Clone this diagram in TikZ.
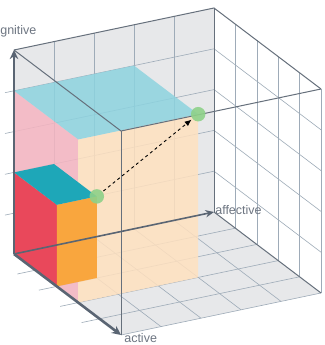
\documentclass[tikz,border=0pt]{standalone}
\usepackage{fontspec}
\setmainfont{Liberation Sans}
\usetikzlibrary{arrows.meta}
\definecolor{cwall}{HTML}{E7E8EA}
\definecolor{cgrid}{HTML}{9EABB8}
\definecolor{cframe}{HTML}{66707C}
\definecolor{caxis}{HTML}{5A6573}
\definecolor{ctext}{HTML}{6E7682}
\definecolor{ccyan}{HTML}{8DD3DF}
\definecolor{cpink}{HTML}{F6B5C1}
\definecolor{cpeach}{HTML}{FFE1BF}
\definecolor{cred}{HTML}{E9485B}
\definecolor{corange}{HTML}{F9A63E}
\definecolor{cteal}{HTML}{1EA7B8}
\definecolor{cgreen}{HTML}{8ED189}
\tikzset{
  every picture/.style={line width=0.6pt},
  face/.style={fill=#1, draw=none},
  glassface/.style={fill=#1, fill opacity=0.85, draw=none},
  gridline/.style={draw=cgrid, line width=0.6pt},
  frame/.style={draw=cframe, line width=1pt},
  axis/.style={-{Stealth[length=3.2mm, width=3mm]}, draw=caxis, line width=2.6pt},
  thinaxis/.style={-{Stealth[length=3mm, width=2.6mm]}, draw=caxis, line width=1.6pt},
  greendot/.style={circle, fill=cgreen, fill opacity=0.9, inner sep=0pt, minimum size=14.5pt},
  dasharrow/.style={-{Latex[length=2.4mm, width=2mm]}, draw=black, dashed, line width=0.9pt, shorten <=1pt, shorten >=1pt},
  axislabel/.style={text=ctext, inner sep=0pt},
}
\newcommand{\labelsize}{\fontsize{12.5}{14}\selectfont}
\begin{document}
\begin{tikzpicture}[x={(200pt,42pt)}, y={(107pt,-81pt)}, z={(0pt,204pt)}]
  \useasboundingbox (-14pt,-91pt) rectangle (310pt,254pt);
  \clip (-14pt,-91pt) rectangle (310pt,254pt);
  \fill[white] (-14pt,-91pt) rectangle (310pt,254pt);
  % corners of the cube
  \coordinate (O) at (0,0,0);
  \coordinate (X) at (1,0,0);
  \coordinate (Y) at (0,1,0);
  \coordinate (Z) at (0,0,1);
  \coordinate (XY) at (1,1,0);
  \coordinate (XZ) at (1,0,1);
  \coordinate (YZ) at (0,1,1);
  \coordinate (XYZ) at (1,1,1);
  % back wall and floor
  \fill[cwall] (O) -- (X) -- (XZ) -- (Z) -- cycle;
  \fill[cwall] (O) -- (X) -- (XY) -- (Y) -- cycle;
  \foreach \i in {0.2,0.4,0.6,0.8} {
    \draw[gridline] (\i,0,0) -- (\i,0,1);
    \draw[gridline] (0,0,\i) -- (1,0,\i);
    \draw[gridline] (\i,0,0) -- (\i,1,0);
    \draw[gridline] (0,\i,0) -- (1,\i,0);
    \draw[gridline] (1,\i,0) -- (1,\i,1);
    \draw[gridline] (1,0,\i) -- (1,1,\i);
    \draw[gridline] (-0.045,0,\i) -- (0,0,\i);
    \draw[gridline] (-0.09,\i,0) -- (0,\i,0);
  }
  \draw[gridline] (XY) -- (XYZ);
  \draw[gridline] (Y) -- (XY);
  \draw[frame] (Z) -- (XZ) -- (XYZ);
  \draw[frame] (X) -- (XZ);
  \draw[frame] (X) -- (XY);
  % large box
  \fill[glassface=cpink] (0,0,0) -- (0,0.6,0) -- (0,0.6,0.8) -- (0,0,0.8) -- cycle;
  \fill[glassface=cpeach] (0,0.6,0) -- (0.6,0.6,0) -- (0.6,0.6,0.8) -- (0,0.6,0.8) -- cycle;
  \fill[glassface=ccyan] (0,0,0.8) -- (0.6,0,0.8) -- (0.6,0.6,0.8) -- (0,0.6,0.8) -- cycle;
  % small box
  \fill[face=cred] (0,0,0) -- (0,0.4,0) -- (0,0.4,0.4) -- (0,0,0.4) -- cycle;
  \fill[face=corange] (0,0.4,0) -- (0.2,0.4,0) -- (0.2,0.4,0.4) -- (0,0.4,0.4) -- cycle;
  \fill[face=cteal] (0,0,0.4) -- (0.2,0,0.4) -- (0.2,0.4,0.4) -- (0,0.4,0.4) -- cycle;
  % front edges
  \draw[frame] (Z) -- (YZ) -- (XYZ);
  \draw[frame] (Y) -- (YZ);
  % axes
  \draw[thinaxis] (O) -- (X);
  \draw[axis] (O) -- (Z);
  \draw[axis] (O) -- (Y);
  \node[axislabel, font=\labelsize, anchor=west] (cog) at (-14pt,223pt) {gnitive};
  \node[axislabel, font=\labelsize, anchor=west] (aff) at (201pt,44pt) {affective};
  \node[axislabel, font=\labelsize, anchor=base west] (act) at (110pt,-88pt) {active};
  % points
  \node[greendot] (lo) at (0.2,0.4,0.4) {};
  \node[greendot] (hi) at (0.6,0.6,0.8) {};
  \draw[dasharrow] (lo) -- (hi);
\end{tikzpicture}
\end{document}
